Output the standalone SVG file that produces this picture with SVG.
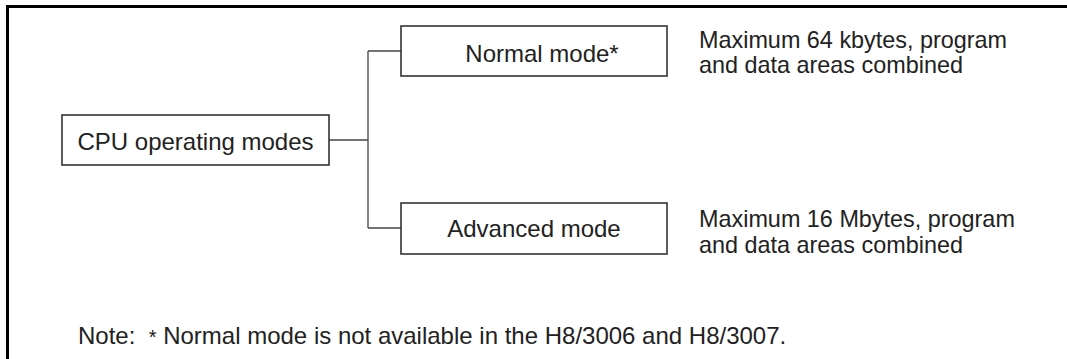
<svg xmlns="http://www.w3.org/2000/svg" width="1067" height="359" viewBox="0 0 1067 359">
<style>
text{font-family:"Liberation Sans",Arial,sans-serif;font-size:24px;fill:#222}
.desc{font-size:23.4px}
.box{fill:#fff;stroke:#333;stroke-width:1.6}
.conn{fill:none;stroke:#444;stroke-width:1.3}
.frame{fill:none;stroke:#000;stroke-width:3}
.mid{text-anchor:middle}
</style>
<rect width="1067" height="359" fill="#fff"/>
<path class="frame" d="M7.5 360 V6.5 H1068"/>
<g id="connectors">
<path class="conn" d="M329 140 H368"/>
<path class="conn" d="M368 51 V228"/>
<path class="conn" d="M368 51 H401"/>
<path class="conn" d="M368 228 H401"/>
</g>
<g id="cpu">
<rect class="box" x="62" y="115" width="267" height="50"/>
<text class="mid" x="195.5" y="149.5">CPU operating modes</text>
</g>
<g id="normal">
<rect class="box" x="401" y="26" width="266" height="50"/>
<text class="mid" x="542" y="61.5">Normal mode*</text>
</g>
<g id="advanced">
<rect class="box" x="401" y="203" width="266" height="51"/>
<text class="mid" x="534" y="237">Advanced mode</text>
</g>
<g id="normal-desc">
<text class="desc" x="699" y="48">Maximum 64 kbytes, program</text>
<text class="desc" x="699" y="73">and data areas combined</text>
</g>
<g id="advanced-desc">
<text class="desc" x="699" y="227">Maximum 16 Mbytes, program</text>
<text class="desc" x="699" y="253">and data areas combined</text>
</g>
<g id="note">
<text x="78" y="344" xml:space="preserve">Note:  <tspan font-size="20">*</tspan> Normal mode is not available in the H8/3006 and H8/3007.</text>
</g>
</svg>
